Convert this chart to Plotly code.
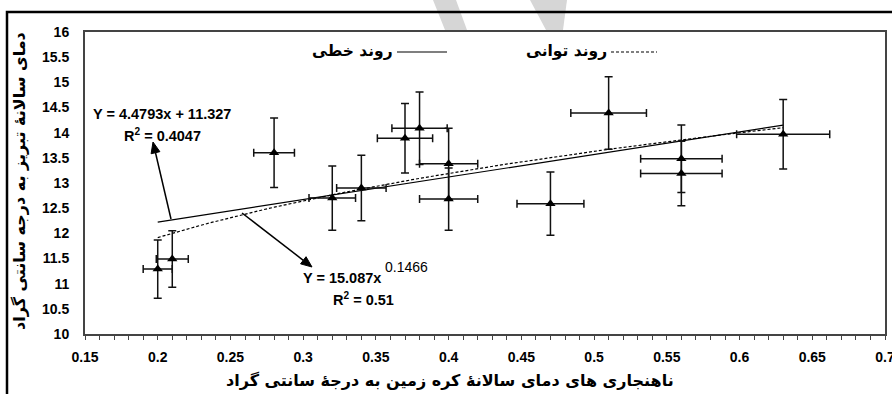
import numpy as np
import plotly.graph_objects as go

# Global annual temperature anomaly (deg C) vs. Tabriz annual mean temperature (deg C)
anomaly = [0.20, 0.21, 0.28, 0.32, 0.34, 0.37, 0.38, 0.40, 0.40, 0.47, 0.51, 0.56, 0.56, 0.63]
tabriz_temp = [11.29, 11.49, 13.60, 12.70, 12.90, 13.89, 14.09, 13.38, 12.68, 12.59, 14.39, 13.48, 13.19, 13.97]
anomaly_err = [0.010, 0.011, 0.014, 0.016, 0.017, 0.019, 0.019, 0.020, 0.020, 0.023, 0.026, 0.028, 0.028, 0.032]
temp_err = [0.58, 0.56, 0.69, 0.64, 0.65, 0.69, 0.72, 0.71, 0.62, 0.63, 0.72, 0.67, 0.64, 0.69]

# Trend-line coefficients
lin_slope, lin_icpt, lin_r2 = 4.4793, 11.327, 0.4047
pow_coef, pow_exp, pow_r2 = 15.087, 0.1466, 0.51

x_ticks = [0.15, 0.2, 0.25, 0.3, 0.35, 0.4, 0.45, 0.5, 0.55, 0.6, 0.65, 0.7]
x_tick_text = ["0.15", "0.2", "0.25", "0.3", "0.35", "0.4", "0.45", "0.5", "0.55", "0.6", "0.65", "0.7"]
y_ticks = [10, 10.5, 11, 11.5, 12, 12.5, 13, 13.5, 14, 14.5, 15, 15.5, 16]
y_tick_text = ["10", "10.5", "11", "11.5", "12", "12.5", "13", "13.5", "14", "14.5", "15", "15.5", "16"]

legend_linear = "روند خطی"
legend_power = "روند توانی"
x_title = "ناهنجاری های دمای سالانۀ کره زمین به درجۀ سانتی گراد"
y_title = "دمای سالانۀ تبریز به درجه سانتی گراد"

W, H = 892, 394
L, R, T, B = 85, 7, 32, 60
PW, PH = W - L - R, H - T - B


def px(xp):
    return (xp - L) / PW


def py(yp):
    return (H - B - yp) / PH


AR = "Liberation Sans"
FA = "DejaVu Sans"

fig = go.Figure()

xs = np.linspace(min(anomaly), max(anomaly), 60)
fig.add_trace(go.Scatter(x=xs, y=lin_slope * xs + lin_icpt, mode="lines",
                         line=dict(color="black", width=1.2), showlegend=False,
                         hoverinfo="skip"))
fig.add_trace(go.Scatter(x=xs, y=pow_coef * xs ** pow_exp, mode="lines",
                         line=dict(color="black", width=1.2, dash="3px,2px"),
                         showlegend=False, hoverinfo="skip"))

fig.add_trace(go.Scatter(
    x=anomaly, y=tabriz_temp, mode="markers",
    marker=dict(symbol="triangle-up", size=9, color="black"),
    error_x=dict(type="data", array=anomaly_err, color="#111", thickness=1.5, width=4),
    error_y=dict(type="data", array=temp_err, color="#111", thickness=1.5, width=4),
    showlegend=False))

shapes = []
# watermark strokes above the plot area
shapes.append(dict(type="path", xref="paper", yref="paper", layer="below",
                   path=f"M {px(433)} {py(0)} L {px(456)} {py(0)} L {px(467)} {py(30)} L {px(445)} {py(30)} Z",
                   fillcolor="#d6d6d6", line=dict(width=0)))
shapes.append(dict(type="path", xref="paper", yref="paper", layer="below",
                   path=f"M {px(530)} {py(0)} L {px(567)} {py(0)} L {px(563)} {py(30)} L {px(546)} {py(30)} Z",
                   fillcolor="#d6d6d6", line=dict(width=0)))
# outer frame
shapes.append(dict(type="rect", xref="paper", yref="paper",
                   x0=px(7), x1=px(W + 20), y0=py(H + 20), y1=py(12),
                   line=dict(color="black", width=2.5)))
# legend samples
shapes.append(dict(type="line", xref="paper", yref="paper",
                   x0=px(397), x1=px(447), y0=py(52), y1=py(52),
                   line=dict(color="black", width=1.2)))
shapes.append(dict(type="line", xref="paper", yref="paper",
                   x0=px(611), x1=px(657), y0=py(52), y1=py(52),
                   line=dict(color="black", width=1.2, dash="3px,2px")))

# arrows pointing from the trend lines to their equations (head, tail in px)
for hx, hy, tx, ty in [(153, 142, 171, 219), (312, 267, 242, 213)]:
    dx, dy = hx - tx, hy - ty
    n = (dx * dx + dy * dy) ** 0.5
    ux, uy = dx / n, dy / n
    hl, hw = 11, 4.5
    bx, by = hx - ux * hl, hy - uy * hl
    shapes.append(dict(type="line", xref="paper", yref="paper",
                       x0=px(tx), y0=py(ty), x1=px(bx), y1=py(by),
                       line=dict(color="black", width=1.5)))
    p1 = (bx - uy * hw, by + ux * hw)
    p2 = (bx + uy * hw, by - ux * hw)
    shapes.append(dict(type="path", xref="paper", yref="paper",
                       path=f"M {px(hx)} {py(hy)} L {px(p1[0])} {py(p1[1])} L {px(p2[0])} {py(p2[1])} Z",
                       fillcolor="black", line=dict(color="black", width=1)))

ann = []


def text(xp, yp, s, size=13, family=AR, bold=True, xanchor="center", angle=0):
    ann.append(dict(x=px(xp), y=py(yp), xref="paper", yref="paper",
                    text=f"<b>{s}</b>" if bold else s,
                    showarrow=False, xanchor=xanchor, yanchor="middle",
                    textangle=angle,
                    font=dict(family=family, size=size, color="black")))


text(395, 51, legend_linear, size=15.5, family=FA, xanchor="right")
text(609, 51, legend_power, size=15.5, family=FA, xanchor="right")

text(162, 114, f"Y = {lin_slope}x + {lin_icpt}", size=14.5)
text(162, 135, f"R<sup>2</sup> = {lin_r2}", size=14.5)
text(383, 278, f"Y = {pow_coef}x", size=14.5, xanchor="right")
text(383, 267, f"{pow_exp}", size=14, bold=False, xanchor="left")
text(363, 299, f"R<sup>2</sup> = {pow_r2}", size=14.5)

text(450, 380, x_title, size=16, family=FA)
text(19, 181, y_title, size=16, family=FA, angle=-90)

fig.update_layout(
    width=W, height=H,
    margin=dict(l=L, r=R, t=T, b=B, autoexpand=False),
    paper_bgcolor="white", plot_bgcolor="white",
    shapes=shapes, annotations=ann,
    xaxis=dict(range=[0.15, 0.7], tickvals=x_ticks,
               ticktext=[f"<b>{t}</b>" for t in x_tick_text],
               automargin=False, ticklabeloverflow="allow",
               showgrid=False, zeroline=False, showline=True, mirror=True,
               linecolor="#444", linewidth=2, ticks="outside", ticklen=4,
               tickcolor="#444", tickwidth=1.2, ticklabelstandoff=5,
               tickfont=dict(family=AR, size=14, color="black"),
               minor=dict(dtick=0.01, ticks="outside", ticklen=4, tickcolor="#444", tickwidth=1.2)),
    yaxis=dict(range=[10, 16], tickvals=y_ticks,
               ticktext=[f"<b>{t}</b>" for t in y_tick_text],
               automargin=False,
               showgrid=False, zeroline=False, showline=True, mirror=True,
               linecolor="#444", linewidth=2, ticks="", ticklabelstandoff=11,
               tickfont=dict(family=AR, size=14, color="black")),
)

fig.write_html("out.html")
